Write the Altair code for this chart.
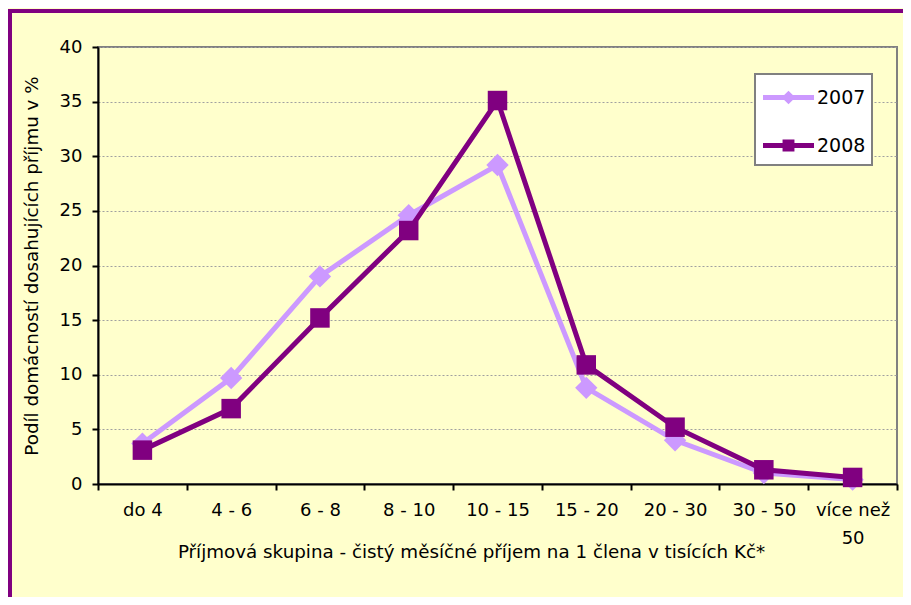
import altair as alt
import pandas as pd

categories = ["do 4", "4 - 6", "6 - 8", "8 - 10", "10 - 15", "15 - 20", "20 - 30", "30 - 50", "více než 50"]
series_names = ["2007", "2008"]
values_2007 = [3.7, 9.7, 19.0, 24.6, 29.2, 8.8, 4.0, 1.0, 0.4]
values_2008 = [3.1, 6.9, 15.2, 23.2, 35.1, 10.9, 5.2, 1.3, 0.6]
colors = ["#CC99FF", "#800080"]
y_ticks = [0, 5, 10, 15, 20, 25, 30, 35, 40]

rows = []
for name, vals in zip(series_names, [values_2007, values_2008]):
    for c, v in zip(categories, vals):
        rows.append({"kat": c, "rok": name, "podil": v})
df = pd.DataFrame(rows)

FONT = "DejaVu Sans"

x_enc = alt.X(
    "kat:N",
    sort=categories,
    scale=alt.Scale(paddingInner=0, paddingOuter=0),
    axis=alt.Axis(
        title="Příjmová skupina - čistý měsíčné příjem na 1 člena v tisících Kč*",
        titleFont=FONT, titleFontSize=18.3, titleFontWeight="normal", titleColor="black",
        titleX=373, titleY=68, titleBaseline="middle",
        labelFont=FONT, labelFontSize=18, labelColor="black", labelAngle=0,
        labelPadding=11, labelLineHeight=28,
        labelExpr="datum.label == 'více než 50' ? ['více než', '50'] : datum.label",
        tickBand="extent", tickSize=6, tickColor="black", tickWidth=2,
        domainColor="black", domainWidth=2, grid=False,
    ),
)
y_enc = alt.Y(
    "podil:Q",
    scale=alt.Scale(domain=[0, 40], nice=False),
    axis=alt.Axis(
        title="Podíl domácností dosahujících příjmu v %",
        titleFont=FONT, titleFontSize=18.3, titleFontWeight="normal", titleColor="black",
        titleX=-66, titleY=218.5, titleBaseline="middle",
        values=y_ticks, labelFont=FONT, labelFontSize=18, labelColor="black",
        labelPadding=10, tickSize=6, tickColor="black", tickWidth=2,
        domainColor="black", domainWidth=2,
        grid=True, gridColor="#A0A0A0", gridDash=[2, 2], gridWidth=1,
    ),
)

# legend symbols: a line stub with the series marker (symbol unit = 15 px)
path_2007 = "M-1.7,0L1.7,0M0,-0.22L0.22,0L0,0.22L-0.22,0Z"
path_2008 = "M-1.7,0L1.7,0M-0.23,-0.23L0.23,-0.23L0.23,0.23L-0.23,0.23Z"

legend_cfg = alt.Legend(
    title=None, orient="none", legendX=657, legendY=27,
    labelFont=FONT, labelFontSize=19, labelColor="black", labelOffset=11,
    symbolSize=900, symbolStrokeWidth=5, symbolOffset=10, symbolOpacity=1,
)
col_scale = alt.Scale(domain=series_names, range=colors)

layers = []
shapes = {"2007": ("diamond", 500), "2008": ("square", 380)}
for i, name in enumerate(series_names):
    base = alt.Chart(df).transform_filter(alt.datum.rok == name)
    line = base.mark_line(strokeWidth=5, color=colors[i]).encode(x=x_enc, y=y_enc)
    shp, sz = shapes[name]
    pts = base.mark_point(shape=shp, size=sz, filled=True, opacity=1, color=colors[i]).encode(x=x_enc, y=y_enc)
    layers += [line, pts]

legend_layer = alt.Chart(df).transform_filter("false").mark_point(opacity=1, strokeWidth=5).encode(
    fill=alt.Fill("rok:N", scale=col_scale, legend=legend_cfg),
    stroke=alt.Stroke("rok:N", scale=col_scale, legend=legend_cfg),
    shape=alt.Shape("rok:N", scale=alt.Scale(domain=series_names, range=[path_2007, path_2008]), legend=legend_cfg),
)

border_data = alt.Data(values=[{"a": 1}])
border_left = alt.Chart(border_data).mark_rule(color="#800080", strokeWidth=4).encode(
    x=alt.value(-88), y=alt.value(-38), y2=alt.value(560))
border_top = alt.Chart(border_data).mark_rule(color="#800080", strokeWidth=4).encode(
    x=alt.value(-90), x2=alt.value(815), y=alt.value(-36))

chart = alt.layer(*layers, legend_layer, border_left, border_top).properties(
    width=799, height=437,
    background="#FFFFCC",
    padding={"left": 90, "top": 39, "right": 6, "bottom": 113},
    autosize=alt.AutoSizeParams(type="none"),
).configure_view(
    stroke="#808080", strokeWidth=2, fill="white"
).configure_legend(
    fillColor="white", strokeColor="#808080", strokeWidth=2, padding=6, rowPadding=17,
)

chart.save("out.html", embed_options={"renderer": "svg", "actions": False})
